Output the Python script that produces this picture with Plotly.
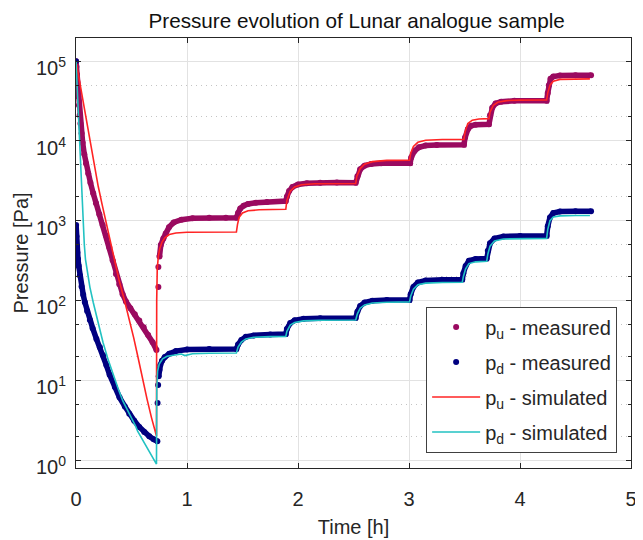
import plotly.graph_objects as go

# ---------------- data ----------------
# p_u measured: decay part, sparse jump points, and the stepped part
pu_decay_t = [0, 0.004, 0.008, 0.012, 0.016, 0.02, 0.026, 0.033, 0.04, 0.05, 0.06, 0.075, 0.09,
              0.11, 0.13, 0.155, 0.18, 0.21, 0.24, 0.27, 0.30, 0.33, 0.36, 0.39, 0.42, 0.45,
              0.49, 0.53, 0.57, 0.61, 0.65, 0.69, 0.725]
pu_decay_p = [1e5, 8.5e4, 6.8e4, 5.4e4, 4.4e4, 3.6e4, 2.8e4, 2.1e4, 1.65e4, 1.25e4, 9500, 6800, 5200,
              3900, 3000, 2200, 1650, 1200, 880, 650, 460, 320, 215, 160, 120, 97,
              80, 67, 56, 46, 37, 30, 24]
pu_jump_t = [0.742, 0.742]
pu_jump_p = [147, 262]
pu_steps_t = [0.752, 0.764, 0.787, 0.808, 0.838, 0.88, 0.95, 1.05, 1.2, 1.35, 1.445,
              1.46, 1.48, 1.51, 1.55, 1.62, 1.72, 1.89,
              1.9, 1.92, 1.95, 2.0, 2.08, 2.2, 2.35, 2.52,
              2.535, 2.56, 2.6, 2.66, 2.75, 3.01,
              3.02, 3.05, 3.09, 3.15, 3.25, 3.495,
              3.505, 3.53, 3.56, 3.6, 3.72,
              3.73, 3.75, 3.78, 3.83, 3.95, 4.24,
              4.25, 4.26, 4.275, 4.3, 4.36, 4.5, 4.64]
pu_steps_p = [355, 495, 600, 690, 830, 950, 1030, 1070, 1090, 1090, 1090,
              1250, 1420, 1540, 1620, 1680, 1720, 1760,
              2000, 2350, 2650, 2850, 2950, 3000, 3020, 3000,
              3600, 4400, 4900, 5150, 5250, 5250,
              6200, 7500, 8300, 8750, 8900, 8950,
              11000, 14000, 15500, 16000, 16200,
              21000, 26000, 29500, 31000, 31800, 31800,
              40000, 50000, 60000, 64000, 66000, 66500, 66500]

# p_d measured
pd_start_t = [0]
pd_start_p = [1e5]
pd_decay_t = [0.001, 0.004, 0.008, 0.012, 0.018, 0.025, 0.035, 0.05, 0.065, 0.08, 0.1, 0.125,
              0.15, 0.184, 0.215, 0.243, 0.273, 0.303, 0.35, 0.392, 0.44, 0.48, 0.525,
              0.57, 0.615, 0.66, 0.7, 0.733]
pd_decay_p = [880, 640, 480, 400, 330, 270, 205, 150, 118, 95, 74, 57,
              45, 33, 26, 20.6, 15.5, 11.7, 8.2, 6.1, 4.7, 3.8, 3.1,
              2.6, 2.25, 1.98, 1.82, 1.72]
pd_jump_t = [0.735, 0.74]
pd_jump_p = [5.2, 8.7]
pd_steps_t = [0.745, 0.752, 0.76, 0.775, 0.8, 0.84, 0.9, 1.0, 1.2, 1.445,
              1.46, 1.49, 1.53, 1.6, 1.75, 1.89,
              1.9, 1.93, 1.97, 2.05, 2.2, 2.52,
              2.535, 2.56, 2.6, 2.67, 2.8, 3.005,
              3.015, 3.04, 3.08, 3.15, 3.3, 3.48,
              3.49, 3.51, 3.54, 3.6, 3.7,
              3.71, 3.73, 3.77, 3.85, 4.0, 4.24,
              4.25, 4.27, 4.3, 4.36, 4.5, 4.64]
pd_steps_p = [11.2, 13.5, 15.5, 17.5, 19.5, 21.5, 23.2, 24.3, 24.6, 24.6,
              28, 32, 35, 36.5, 37.5, 38,
              44, 52, 56.5, 59, 60, 60.5,
              72, 85, 94, 99, 101, 101.5,
              120, 148, 168, 178, 182, 183,
              220, 270, 315, 330, 335,
              420, 520, 600, 635, 645, 648,
              850, 1100, 1250, 1300, 1310, 1310]

# p_u simulated
pu_sim_t = [0, 0.03, 0.06, 0.09, 0.119, 0.16, 0.2, 0.235, 0.267, 0.3, 0.34, 0.39, 0.437,
            0.48, 0.52, 0.56, 0.6, 0.64, 0.68, 0.725,
            0.727, 0.732, 0.742, 0.755, 0.775, 0.8, 0.84, 0.9, 1.0, 1.445,
            1.455, 1.47, 1.5, 1.55, 1.65, 1.89,
            1.9, 1.93, 1.97, 2.03, 2.15, 2.52,
            2.53, 2.56, 2.6, 2.67, 2.8, 3.005,
            3.015, 3.04, 3.08, 3.15, 3.3, 3.495,
            3.505, 3.53, 3.57, 3.63, 3.72,
            3.73, 3.76, 3.8, 3.88, 4.0, 4.24,
            4.25, 4.27, 4.3, 4.36, 4.5, 4.63]
pu_sim_p = [1e5, 5.8e4, 3.4e4, 1.9e4, 1.1e4, 5400, 2700, 1600, 1000, 600, 330, 175, 100,
            58, 34, 19, 10, 5.8, 3.4, 2.0,
            100, 250, 360, 450, 540, 610, 670, 700, 715, 720,
            900, 1100, 1250, 1330, 1370, 1390,
            1800, 2350, 2650, 2820, 2900, 2920,
            3600, 4500, 5100, 5500, 5700, 5750,
            7000, 8500, 9600, 10200, 10400, 10450,
            13000, 16500, 18200, 18800, 19000,
            23000, 28000, 30500, 32000, 32500, 32700,
            40000, 50000, 56000, 59000, 60000, 60000]

# p_d simulated
pd_sim_t = [0, 0.015, 0.033, 0.05, 0.065, 0.075, 0.085, 0.1, 0.125, 0.155, 0.184, 0.215,
            0.243, 0.29, 0.333, 0.38, 0.422, 0.465, 0.51, 0.54, 0.555, 0.6, 0.63, 0.68, 0.725,
            0.728, 0.735, 0.75, 0.78, 0.82, 0.9, 0.95, 0.98, 1.0, 1.05, 1.2, 1.445,
            1.46, 1.49, 1.53, 1.6, 1.75, 1.89,
            1.9, 1.93, 1.97, 2.05, 2.2, 2.52,
            2.535, 2.56, 2.6, 2.67, 2.8, 3.005,
            3.015, 3.04, 3.08, 3.15, 3.3, 3.48,
            3.49, 3.51, 3.54, 3.6, 3.7,
            3.71, 3.73, 3.77, 3.85, 4.0, 4.24,
            4.25, 4.27, 4.3, 4.36, 4.5, 4.63]
pd_sim_p = [1e5, 3.2e4, 1e4, 3200, 1000, 500, 330, 230, 147, 95, 63, 43,
            30, 18, 11.7, 7.8, 5.5, 4.2, 3.2, 2.6, 2.3, 1.8, 1.5, 1.15, 0.89,
            8, 13, 16, 18.5, 20, 21, 21.3, 20.4, 20.8, 21.5, 21.8, 22,
            26, 30, 33, 34.5, 35.2, 35.5,
            41, 49, 53, 55.5, 56.5, 57,
            68, 80, 88, 93, 95, 96,
            113, 138, 157, 165, 168, 169,
            200, 250, 290, 305, 310,
            380, 480, 555, 590, 598, 600,
            780, 1000, 1110, 1150, 1160, 1160]

# axis ticks and texts
x_ticks = [0, 1, 2, 3, 4, 5]
y_tickvals = [1, 10, 100, 1000, 10000, 100000]
y_ticktext = ["10<sup>0</sup>", "10<sup>1</sup>", "10<sup>2</sup>",
              "10<sup>3</sup>", "10<sup>4</sup>", "10<sup>5</sup>"]
title_text = "Pressure evolution of Lunar analogue sample"
x_label = "Time [h]"
y_label = "Pressure [Pa]"
legend_names = ["p<sub>u</sub> - measured", "p<sub>d</sub> - measured",
                "p<sub>u</sub> - simulated", "p<sub>d</sub> - simulated"]

# ---------------- styles ----------------
C_PU = "#9A0A60"
C_PD = "#000080"
C_PU_SIM = "#FF2424"
C_PD_SIM = "#22C2C2"
FONT = "Arial, Liberation Sans, sans-serif"
TXT = "#262626"

fig = go.Figure()

# measured bands (connecting lines through the dense parts, no legend)
fig.add_trace(go.Scatter(x=pu_decay_t + [None] + pu_steps_t, y=pu_decay_p + [None] + pu_steps_p,
                         mode="lines", line=dict(color=C_PU, width=5.5), showlegend=False,
                         hoverinfo="skip", connectgaps=False, legendgroup="a"))
fig.add_trace(go.Scatter(x=pd_decay_t + [None] + pd_steps_t, y=pd_decay_p + [None] + pd_steps_p,
                         mode="lines", line=dict(color=C_PD, width=5.5), showlegend=False,
                         hoverinfo="skip", connectgaps=False, legendgroup="b"))
# measured points
fig.add_trace(go.Scatter(x=pu_decay_t + pu_jump_t + pu_steps_t, y=pu_decay_p + pu_jump_p + pu_steps_p,
                         mode="markers", marker=dict(color=C_PU, size=6), name=legend_names[0],
                         legendgroup="a"))
fig.add_trace(go.Scatter(x=pd_start_t + pd_decay_t + pd_jump_t + pd_steps_t,
                         y=pd_start_p + pd_decay_p + pd_jump_p + pd_steps_p,
                         mode="markers", marker=dict(color=C_PD, size=6), name=legend_names[1],
                         legendgroup="b"))
# simulated
fig.add_trace(go.Scatter(x=pu_sim_t, y=pu_sim_p, mode="lines",
                         line=dict(color=C_PU_SIM, width=1.6), name=legend_names[2],
                         legendgroup="c"))
fig.add_trace(go.Scatter(x=pd_sim_t, y=pd_sim_p, mode="lines",
                         line=dict(color=C_PD_SIM, width=1.6), name=legend_names[3],
                         legendgroup="d"))

fig.update_layout(
    width=635, height=532,
    margin=dict(l=68, r=6, t=30, b=61),
    paper_bgcolor="white", plot_bgcolor="white",
    font=dict(family=FONT, size=20, color=TXT),
    title=dict(text=title_text, x=0.549, xanchor="center", y=0.9756, yanchor="middle",
               font=dict(size=20.7, color="#111111")),
    legend=dict(x=0.975, xanchor="right", y=0.036, yanchor="bottom",
                bgcolor="white", bordercolor="#404040", borderwidth=1,
                font=dict(size=20, color=TXT), tracegroupgap=6, itemwidth=48),
    showlegend=True,
)
fig.update_xaxes(range=[0, 5], tickvals=x_ticks, ticks="inside", ticklen=5, tickcolor=TXT,
                 showline=True, linecolor=TXT, linewidth=1, mirror="ticks",
                 showgrid=True, gridcolor="#E2E2E2", gridwidth=1, zeroline=False,
                 tickfont=dict(size=20, color=TXT), ticklabelstandoff=13,
                 title=dict(text=x_label, font=dict(size=20, color=TXT), standoff=10))
fig.update_yaxes(type="log", range=[-0.1, 5.29], tickvals=y_tickvals, ticktext=y_ticktext,
                 ticks="inside", ticklen=5,
                 tickcolor=TXT, showline=True, linecolor=TXT, linewidth=1, mirror="ticks",
                 showgrid=True, gridcolor="#E2E2E2", gridwidth=1,
                 zeroline=False, tickfont=dict(size=20, color=TXT), ticklabelstandoff=5,
                 ticklabelshift=7,
                 minor=dict(ticks="inside", ticklen=3, tickcolor=TXT, showgrid=True,
                            gridcolor="#C4C4C4", griddash="1px,4px", gridwidth=1),
                 title=dict(text=y_label, font=dict(size=20, color=TXT), standoff=1))

fig.write_html("out.html")
